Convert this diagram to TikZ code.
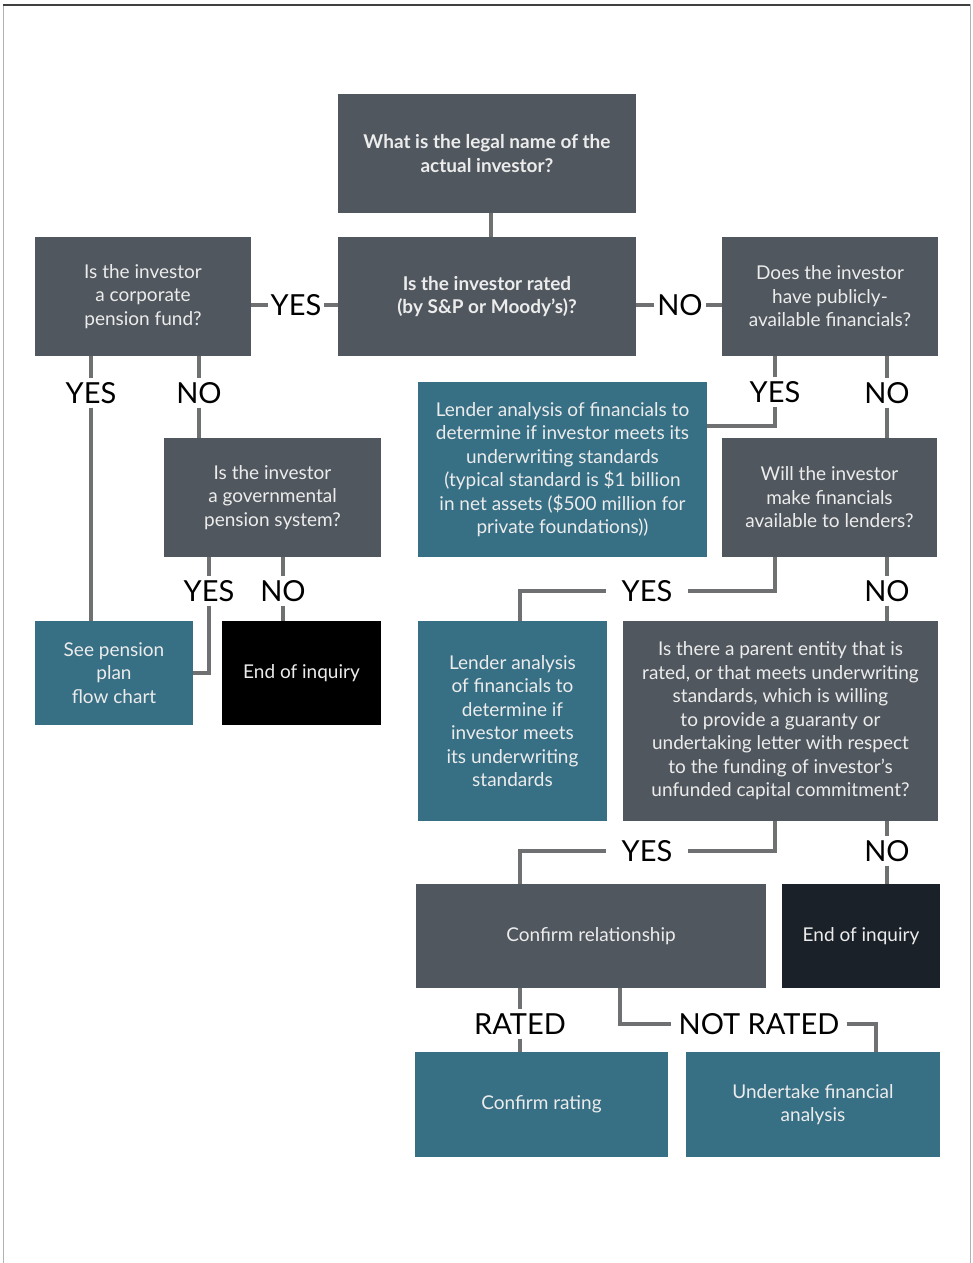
\documentclass[tikz,border=0pt]{standalone}
\usepackage{fontspec}
\setmainfont{Lato}
\definecolor{boxgray}{RGB}{80,87,94}
\definecolor{boxteal}{RGB}{55,111,132}
\definecolor{boxnavy}{RGB}{27,33,40}
\definecolor{linkgray}{RGB}{110,112,114}
\definecolor{boxtext}{RGB}{236,236,236}

\begin{document}
\begin{tikzpicture}[x=1pt,y=-1pt,
    box/.style={text=boxtext, align=center, inner sep=0pt, font=\fontsize{19}{23.5}\selectfont},
    gbox/.style={box, fill=boxgray},
    tbox/.style={box, fill=boxteal},
    ans/.style={font=\fontsize{29}{29}\selectfont, text height=21pt, text depth=0pt, inner xsep=3pt, inner ysep=4pt},
    wideans/.style={ans, inner xsep=16pt},
    link/.style={linkgray, line width=4pt}]
    \useasboundingbox (0,0) rectangle (973,1263);

    % frame
    \draw[gray!60, line width=1pt] (3,1263) -- (3,5) -- (970,5) -- (970,1263);
    \draw[black!75, line width=2pt] (3,5) -- (970,5);

    % boxes
    \node[gbox, minimum width=298, minimum height=119, font=\fontsize{19}{23.5}\selectfont\bfseries] (legal) at (487,153.5) {What is the legal name of the\\actual investor?};
    \node[gbox, minimum width=298, minimum height=119, font=\fontsize{19}{23.5}\selectfont\bfseries] (rated) at (487,296.5) {Is the investor rated\\(by S\&P or Moody’s)?};
    \node[gbox, minimum width=216, minimum height=119] (corp) at (143,296.5) {Is the investor\\a corporate\\pension fund?};
    \node[gbox, minimum width=216, minimum height=119] (pub) at (830,296.5) {Does the investor\\have publicly-\\available financials?};
    \node[gbox, minimum width=217, minimum height=119] (gov) at (272.5,497.5) {Is the investor\\a governmental\\pension system?};
    \node[tbox, minimum width=158, minimum height=104] (pens) at (114,673) {See pension\\plan\\flow chart};
    \node[box, fill=black, minimum width=159, minimum height=104] (end1) at (301.5,673) {End of inquiry};
    \node[tbox, minimum width=289, minimum height=175] (lend1) at (562.5,469.5) {Lender analysis of financials to\\determine if investor meets its\\underwriting standards\\(typical standard is \$1 billion\\in net assets (\$500 million for\\private foundations))};
    \node[gbox, minimum width=215, minimum height=119] (will) at (829.5,497.5) {Will the investor\\make financials\\available to lenders?};
    \node[tbox, minimum width=189, minimum height=200] (lend2) at (512.5,721) {Lender analysis\\of financials to\\determine if\\investor meets\\its underwriting\\standards};
    \node[gbox, minimum width=315, minimum height=200] (parent) at (780.5,721) {Is there a parent entity that is\\rated, or that meets underwriting\\standards, which is willing\\to provide a guaranty or\\undertaking letter with respect\\to the funding of investor’s\\unfunded capital commitment?};
    \node[gbox, minimum width=350, minimum height=104] (conf) at (591,936) {Confirm relationship};
    \node[box, fill=boxnavy, minimum width=158, minimum height=104] (end2) at (861,936) {End of inquiry};
    \node[tbox, minimum width=253, minimum height=105] (rating) at (541.5,1104.5) {Confirm rating};
    \node[tbox, minimum width=254, minimum height=105] (under) at (813,1104.5) {Undertake financial\\analysis};

    % answers
    \node[ans] (cyes) at (296,305) {YES};
    \node[ans] (rno) at (680,305) {NO};
    \node[ans] (cy) at (91,393) {YES};
    \node[ans] (cn) at (199,393) {NO};
    \node[ans] (py) at (775,392) {YES};
    \node[ans] (pn) at (887,393) {NO};
    \node[ans] (gy) at (209,591) {YES};
    \node[ans] (gn) at (283,591) {NO};
    \node[wideans] (wy) at (647,591) {YES};
    \node[ans] (wn) at (887,591) {NO};
    \node[wideans] (ay) at (647,851) {YES};
    \node[ans] (an) at (887,851) {NO};
    \node[ans] (cr) at (520,1024) {RATED};
    \node[ans, inner xsep=7pt] (cnr) at (759,1024) {NOT RATED};

    \coordinate (lx) at (520,0);
    \coordinate (nx) at (620,0);
    \coordinate (ux) at (876,0);

    % links
    \draw[link] (legal.south -| 491,0) -- (rated.north -| 491,0);
    \draw[link] (corp.east |- cyes) -- (cyes) -- (rated.west |- cyes);
    \draw[link] (rated.east |- rno) -- (rno) -- (pub.west |- rno);
    \draw[link] (corp.south -| cy) -- (cy) -- (pens.north -| cy);
    \draw[link] (corp.south -| cn) -- (cn) -- (gov.north -| cn);
    \draw[link] (gov.south -| gy) -- (gy) |- (pens.east);
    \draw[link] (gov.south -| gn) -- (gn) -- (end1.north -| gn);
    \draw[link] (pub.south -| py) -- (py) |- ([yshift=43.5pt]lend1.east);
    \draw[link] (pub.south -| pn) -- (pn) -- (will.north -| pn);
    \draw[link] (will.south -| py) |- (wy) -| (lend2.north -| lx);
    \draw[link] (will.south -| wn) -- (wn) -- (parent.north -| wn);
    \draw[link] (parent.south -| py) |- (ay) -| (conf.north -| lx);
    \draw[link] (parent.south -| an) -- (an) -- (end2.north -| an);
    \draw[link] (conf.south -| cr) -- (cr) -- (rating.north -| cr);
    \draw[link] (conf.south -| nx) |- (cnr) -| (under.north -| ux);
\end{tikzpicture}
\end{document}
